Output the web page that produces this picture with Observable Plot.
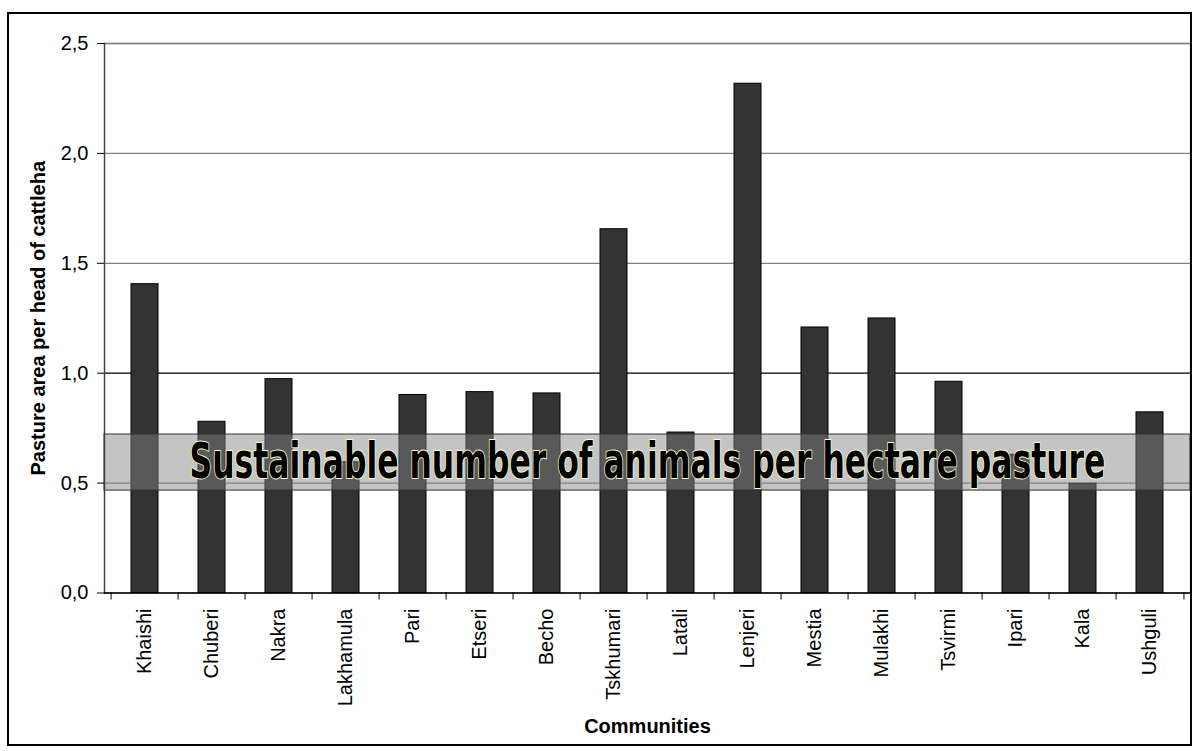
<!DOCTYPE html>
<html>
<head>
<meta charset="utf-8">
<script src="https://cdn.jsdelivr.net/npm/d3@7"></script>
<script src="https://cdn.jsdelivr.net/npm/@observablehq/plot@0.6"></script>
<style>
  html, body { margin: 0; padding: 0; background: #fff; }
  #chart svg { display: block; }
</style>
</head>
<body>
<div id="chart"></div>
<script>
const categories = ["Khaishi","Chuberi","Nakra","Lakhamula","Pari","Etseri","Becho","Tskhumari","Latali","Lenjeri","Mestia","Mulakhi","Tsvirmi","Ipari","Kala","Ushguli"];
const values = [1.405, 0.779, 0.973, 0.595, 0.901, 0.914, 0.908, 1.655, 0.730, 2.317, 1.208, 1.249, 0.961, 0.629, 0.497, 0.822];
const yTicks = [0, 0.5, 1.0, 1.5, 2.0, 2.5];
const gridValues = [0.5, 1.0, 1.5, 2.0, 2.5];
const sustainableRange = [0.466, 0.721];
const sustainableLabel = "Sustainable number of animals per hectare pasture";
const yTitle = "Pasture area per head of cattleha";
const xTitle = "Communities";

const data = categories.map((name, i) => ({name, value: values[i]}));

const W = 1192, H = 751, ML = 104, MR = 2, MT = 43, MB = 158.5;
const step = (W - ML - MR) / categories.length;
const font = "'Liberation Sans', Arial, Helvetica, sans-serif";
const bandTextWidth = 916;

const chart = Plot.plot({
  width: W, height: H,
  marginLeft: ML, marginRight: MR, marginTop: MT, marginBottom: MB,
  style: {fontFamily: font, fontSize: "20px", color: "#000", background: "#fff"},
  x: {domain: categories, paddingInner: 0.6, paddingOuter: 0.3, align: 0.5},
  y: {domain: [0, 2.5]},
  marks: [
    Plot.frame({stroke: "#808080", strokeWidth: 1.3}),
    Plot.ruleY(gridValues, {stroke: d => d === 1 ? "#000" : "#808080", strokeWidth: 1.3}),
    Plot.barY(data, {x: "name", y: "value", fill: "#333333", stroke: "#000", strokeWidth: 1}),
    Plot.rect([sustainableRange], {y1: d => d[0], y2: d => d[1], fill: "#848484", fillOpacity: 0.48, stroke: "#333", strokeWidth: 1}),
    Plot.text([sustainableLabel], {
      y: () => (sustainableRange[0] + sustainableRange[1]) / 2,
      frameAnchor: "middle", textAnchor: "middle", text: d => d,
      fill: "#000", stroke: "#ffffcc", strokeWidth: 1.8,
      fontSize: 49, fontWeight: "bold",
      fontFamily: "'DejaVu Sans Condensed', 'Liberation Sans Narrow', 'Liberation Sans', sans-serif",
      className: "bandtext"
    }),
    Plot.frame({anchor: "left", stroke: "#404040", strokeWidth: 1.3}),
    Plot.ruleY([0], {stroke: "#000", strokeWidth: 1.3}),
    Plot.axisY({ticks: yTicks, tickFormat: d => d.toFixed(1).replace(".", ","), tickSize: 7, tickPadding: 9, fontSize: 20, label: null}),
    Plot.axisX({tickSize: 7, tickFormat: () => "", dx: -step / 2, label: null}),
    Plot.axisX({ticks: [categories[categories.length - 1]], tickSize: 7, tickFormat: () => "", dx: step / 2, label: null}),
    Plot.axisX({tickSize: 0, tickRotate: -90, tickPadding: 15.5, fontSize: 20, label: null}),
    Plot.text([xTitle], {frameAnchor: "bottom", dy: 134, text: d => d, fontWeight: "bold", fontSize: 20, lineAnchor: "middle"}),
    Plot.text([yTitle], {frameAnchor: "left", dx: -66, rotate: -90, textAnchor: "middle", text: d => d, fontWeight: "bold", fontSize: 20, lineAnchor: "middle"})
  ]
});

document.getElementById("chart").appendChild(chart);

const svg = d3.select(chart);
svg.selectAll("g.bandtext text").each(function() {
  const natural = this.getComputedTextLength();
  const s = bandTextWidth / natural;
  const t = this.getAttribute("transform") || "";
  this.setAttribute("transform", t + ` scale(${s},1)`);
});
svg.append("rect")
  .attr("x", 8).attr("y", 13)
  .attr("width", 1183).attr("height", 732)
  .attr("fill", "none").attr("stroke", "#000").attr("stroke-width", 2);
</script>
</body>
</html>
